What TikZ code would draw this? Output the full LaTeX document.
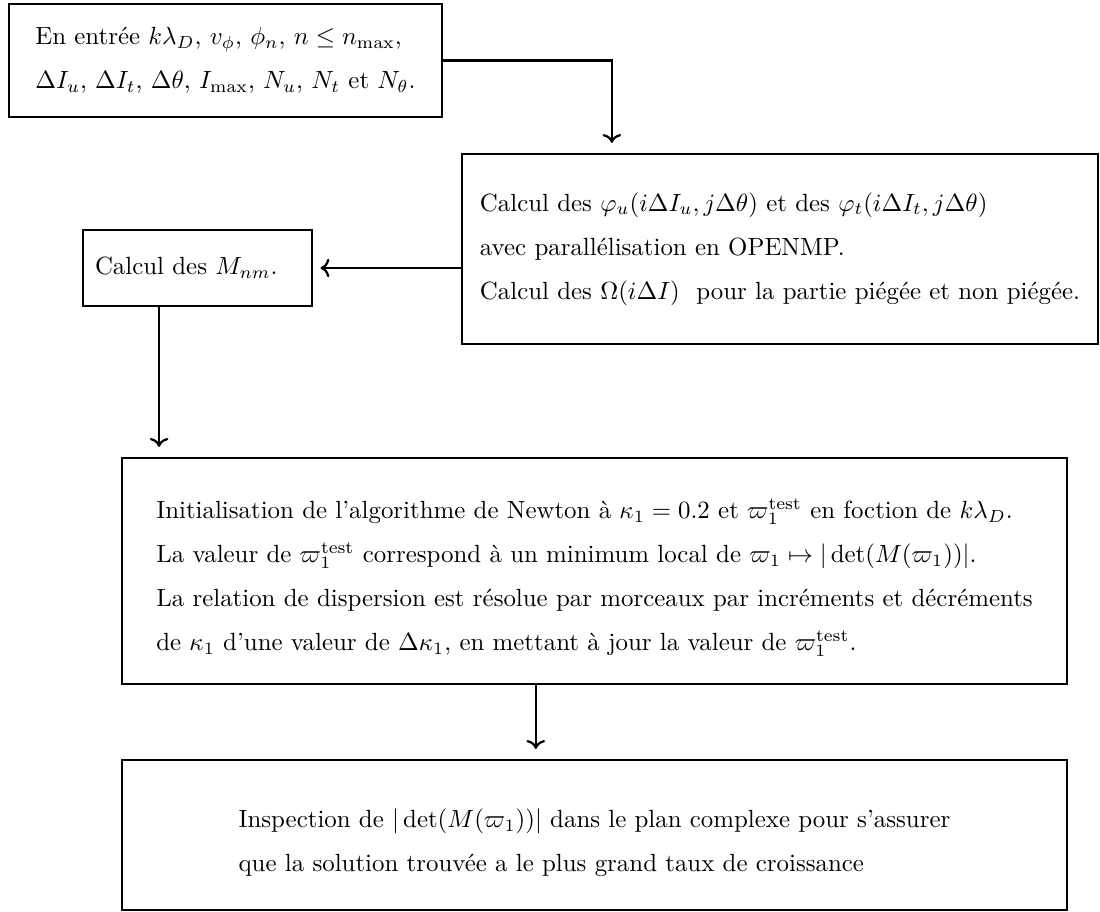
\documentclass[tikz,border=0pt]{standalone}
\usepackage{tikz}
\usetikzlibrary{arrows.meta, positioning, calc}
\tikzset{
  bloc/.style={draw=black, line width=0.9pt, align=left, inner sep=0pt},
  fleche/.style={->, line width=0.9pt, shorten >=4pt}
}

\begin{document}
\begin{tikzpicture}[x=0.402pt, y=-0.402pt]
    \useasboundingbox (0,0) rectangle (1100,911);
    \node[bloc, minimum width=174.1pt, minimum height=45.4pt] (entree) at (225.5,60.5) {
      En entrée $k\lambda_D$, $v_\phi$, $\phi_n$, $n\leq n_{\max}$,\\[5.7pt]
      $\Delta I_u$, $\Delta I_t$, $\Delta\theta$, $I_{\max}$, $N_u$, $N_t$ et $N_\theta$.
    };
    \node[bloc, minimum width=255.7pt, minimum height=76.4pt] (phi) at (780,249) {
      Calcul des $\varphi_u(i\Delta I_u, j\Delta\theta)$ et des $\varphi_t(i\Delta I_t, j\Delta\theta)$\\[5.7pt]
      avec parallélisation en OPENMP.\\[5.7pt]
      Calcul des $\Omega(i\Delta I)$ \ pour la partie piégée et non piégée.
    };
    \node[bloc, inner xsep=4.8pt, text width=82.4pt, minimum height=30.6pt] (mnm) at (197.5,268) {
      Calcul des $M_{nm}$.
    };
    \node[bloc, minimum width=379.9pt, minimum height=90.9pt] (newton) at (594.5,571) {
      \rule{0pt}{13.2pt}Initialisation de l'algorithme de Newton à $\kappa_1=0.2$ et $\varpi_1^{\mathrm{test}}$ en foction de $k\lambda_D$.\\[5.7pt]
      La valeur de $\varpi_1^{\mathrm{test}}$ correspond à un minimum local de $\varpi_1\mapsto|\det(M(\varpi_1))|$.\\[5.7pt]
      La relation de dispersion est résolue par morceaux par incréments et décréments\\[5.7pt]
      de $\kappa_1$ d'une valeur de $\Delta\kappa_1$, en mettant à jour la valeur de $\varpi_1^{\mathrm{test}}$.
    };
    \node[bloc, minimum width=379.9pt, minimum height=60.3pt] (inspection) at (594.5,835) {
      \rule{0pt}{13.9pt}Inspection de $|\det(M(\varpi_1))|$ dans le plan complexe pour s'assurer\\[5.7pt]
      que la solution trouvée a le plus grand taux de croissance
    };

    \draw[fleche] (entree.east) -| ([xshift=60.7pt]phi.north west);
    \draw[fleche, shorten >=3pt] (phi.west |- mnm.east) -- (mnm.east);
    \draw[fleche] ([xshift=31pt]mnm.south west) -- ([xshift=31pt]mnm.south west |- newton.north);
    \draw[fleche] ([xshift=166.8pt]newton.south west) -- ([xshift=166.8pt]newton.south west |- inspection.north);
\end{tikzpicture}
\end{document}
